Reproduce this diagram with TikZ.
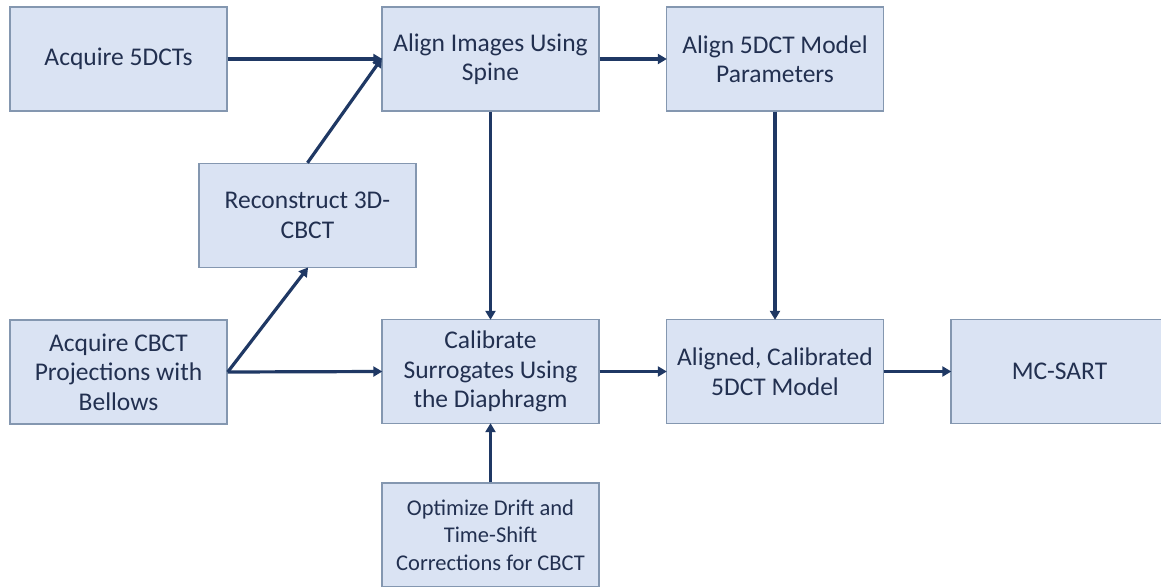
\documentclass[tikz,border=0pt]{standalone}
\usepackage{fontspec}
\setmainfont{Carlito}
\usetikzlibrary{arrows.meta}
\definecolor{boxfill}{HTML}{DAE3F3}
\definecolor{boxline}{HTML}{8497B0}
\definecolor{txt}{HTML}{223050}
\definecolor{arr}{HTML}{1F3864}
\begin{document}
\begin{tikzpicture}[x=1pt,y=-1pt,
  blk/.style={draw=boxline, line width=1.4pt, fill=boxfill, minimum width=217pt, minimum height=104pt,
    inner sep=0pt, align=center, text=txt, font=\fontsize{25.5}{29.5}\selectfont},
  conn/.style={draw=arr, line width=3.2pt, -{Triangle[length=9pt,width=10pt]}, shorten >=-1pt}]
\useasboundingbox (0,0) rectangle (1161,586);
\fill[white] (0,0) rectangle (1161,586);
\node[blk] (a5) at (118.5,59) {Acquire 5DCTs};
\node[blk] (ali) at (490.5,59) {Align Images Using\\Spine};
\node[blk] (amp) at (775,59) {Align 5DCT Model\\Parameters};
\node[blk] (rec) at (307.5,215.5) {Reconstruct 3D-\\CBCT};
\node[blk] (acb) at (118.5,372) {Acquire CBCT\\Projections with\\Bellows};
\node[blk] (cal) at (490.5,371.5) {Calibrate\\Surrogates Using\\the Diaphragm};
\node[blk] (acm) at (775,371.5) {Aligned, Calibrated\\5DCT Model};
\node[blk] (mcs) at (1059.5,371.5) {MC-SART};
\node[blk, font=\fontsize{22.5}{27.5}\selectfont] (opt) at (490.5,535) {Optimize Drift and\\Time-Shift\\Corrections for CBCT};
\draw[conn] (a5.east) -- (ali.west);
\draw[conn] (rec.north) -- (ali.west);
\draw[conn] (ali.east) -- (amp.west);
\draw[conn] (ali.south) -- (cal.north);
\draw[conn] (amp.south) -- (acm.north);
\draw[conn] (acb.east) -- (rec.south);
\draw[conn] (acb.east) -- (cal.west);
\draw[conn] (cal.east) -- (acm.west);
\draw[conn] (acm.east) -- (mcs.west);
\draw[conn] (opt.north) -- (cal.south);
\end{tikzpicture}
\end{document}
